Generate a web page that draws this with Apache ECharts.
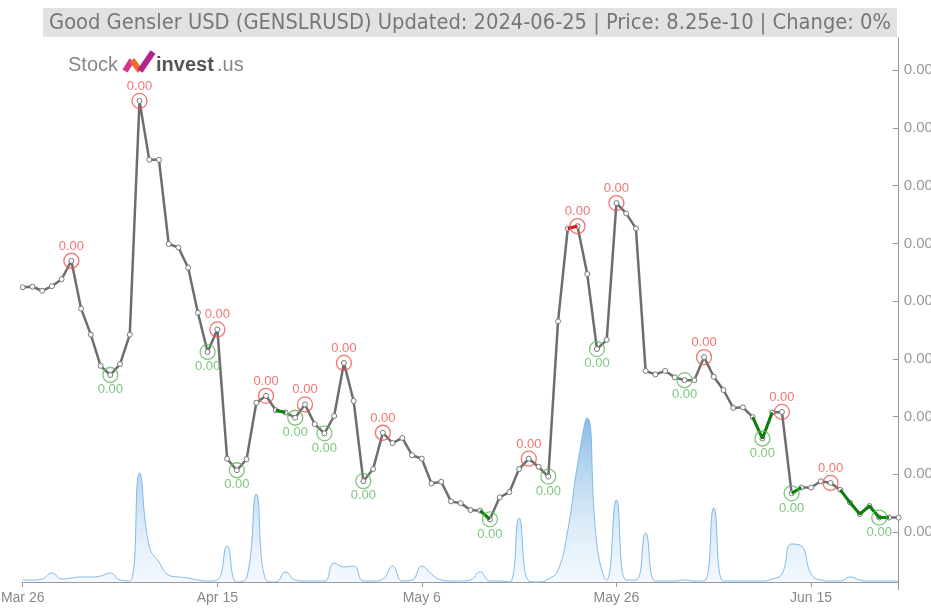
<!DOCTYPE html>
<html>
<head>
<meta charset="utf-8">
<script src="https://cdn.jsdelivr.net/npm/echarts@6/dist/echarts.min.js"></script>
<style>
  html, body { margin: 0; padding: 0; background: #fff; }
  #chart { width: 931px; height: 608px; }
</style>
</head>
<body>
<div id="chart"></div>
<script>
// daily closes, in units of 1e-10 USD
const prices = [
  12.24, 12.25, 12.18, 12.26, 12.38, 12.70, 11.87, 11.42, 10.88, 10.72,
  10.91, 11.42, 15.47, 14.45, 14.45, 12.99, 12.93, 12.58, 11.80, 11.12,
  11.51, 9.27, 9.07, 9.26, 10.24, 10.36, 10.11, 10.07, 9.98, 10.21,
  9.87, 9.71, 10.01, 10.93, 10.27, 8.88, 9.09, 9.72, 9.54, 9.63,
  9.33, 9.27, 8.84, 8.87, 8.53, 8.50, 8.38, 8.37, 8.22, 8.60,
  8.69, 9.09, 9.27, 9.13, 8.96, 11.65, 13.26, 13.30, 12.47, 11.17,
  11.33, 13.70, 13.52, 13.26, 10.79, 10.73, 10.79, 10.68, 10.63, 10.63,
  11.03, 10.69, 10.46, 10.15, 10.16, 9.99, 9.62, 10.07, 10.08, 8.67,
  8.77, 8.77, 8.88, 8.85, 8.73, 8.51, 8.31, 8.45, 8.25, 8.25,
  8.25
];

// relative volume
const volumes = [
  2, 2, 3, 9, 3, 4, 5, 5, 6, 9,
  2, 1, 109, 36, 20, 7, 5, 4, 2, 1,
  2, 36, 0, 4, 88, 2, 0, 10, 2, 1,
  1, 1, 19, 15, 16, 1, 1, 3, 16, 1,
  2, 16, 8, 2, 1, 1, 2, 10, 1, 1,
  0, 64, 1, 0, 3, 12, 52, 117, 164, 37,
  2, 82, 2, 2, 49, 1, 1, 1, 2, 1,
  1, 74, 1, 1, 1, 1, 1, 3, 8, 38,
  36, 8, 2, 1, 1, 5, 2, 1, 1, 1,
  1
];

const tickLabels = ['Mar 26', 'Apr 15', 'May 6', 'May 26', 'Jun 15'];
const highIdx = [5, 12, 20, 25, 29, 33, 37, 52, 57, 61, 70, 78, 83];
const lowIdx = [9, 19, 22, 28, 31, 35, 48, 54, 59, 68, 76, 79, 88];
const greenRuns = [[26, 27], [47, 48], [75, 77], [79, 80], [84, 89]];
const redRuns = [[56, 57]];

const months = ['Jan', 'Feb', 'Mar', 'Apr', 'May', 'Jun', 'Jul', 'Aug', 'Sep', 'Oct', 'Nov', 'Dec'];
const dates = [];
const d0 = Date.UTC(2024, 2, 26);
for (let i = 0; i < prices.length; i++) {
  const d = new Date(d0 + i * 86400000);
  dates.push(months[d.getUTCMonth()] + ' ' + d.getUTCDate());
}

const fmt = (v) => (v * 1e-10).toFixed(2);
const showTick = (idx, val) => tickLabels.indexOf(val) >= 0;

const runSeries = (runs, color) => runs.map(([a, b]) => ({
  type: 'line',
  xAxisIndex: 0,
  yAxisIndex: 0,
  z: 3,
  silent: true,
  showSymbol: false,
  lineStyle: { color: color, width: 3 },
  data: prices.map((p, i) => (i >= a && i <= b ? p : null))
}));

const markSeries = (idxs, color, pos) => ({
  type: 'scatter',
  xAxisIndex: 0,
  yAxisIndex: 0,
  z: 4,
  symbol: 'circle',
  symbolSize: 15,
  itemStyle: { color: 'rgba(0,0,0,0)', borderColor: color, borderWidth: 1.3 },
  label: {
    show: true,
    position: pos,
    distance: 0,
    color: color,
    fontSize: 13,
    fontFamily: 'Liberation Sans',
    formatter: (p) => fmt(p.value[1])
  },
  data: idxs.map((i) => [i, prices[i]])
});

const chart = echarts.init(document.getElementById('chart'));

chart.setOption({
  animation: false,
  title: {
    text: 'Good Gensler USD (GENSLRUSD) Updated: 2024-06-25 | Price: 8.25e-10 | Change: 0%',
    right: 34,
    top: 8,
    padding: [4, 6, 3, 6],
    backgroundColor: '#e2e2e2',
    textStyle: {
      color: '#777',
      fontSize: 21.7,
      fontWeight: 'normal',
      fontFamily: '"Liberation Sans Narrow", "DejaVu Sans Condensed", "Liberation Sans"'
    }
  },
  graphic: [
    { type: 'text', x: 68, y: 65, style: { text: 'Stock', fill: '#888', font: '20px "Liberation Sans"', verticalAlign: 'middle' } },
    { type: 'polyline', shape: { points: [[125, 71], [132, 60]] }, style: { stroke: '#d6338a', lineWidth: 6, fill: null } },
    { type: 'polyline', shape: { points: [[132, 60], [140, 71]] }, style: { stroke: '#f26b2a', lineWidth: 6, fill: null } },
    { type: 'polyline', shape: { points: [[140, 71], [153, 52]] }, style: { stroke: '#b3248f', lineWidth: 6, fill: null } },
    { type: 'text', x: 156, y: 65, style: { text: 'invest', fill: '#555', font: 'bold 20px "Liberation Sans"', verticalAlign: 'middle' } },
    { type: 'text', x: 217, y: 65, style: { text: '.us', fill: '#888', font: '20px "Liberation Sans"', verticalAlign: 'middle' } }
  ],
  grid: [
    { left: 22.7, right: 32.3, top: 38, bottom: 18.3, outerBoundsMode: 'none' },
    { left: 22.7, right: 32.3, top: 38, bottom: 26, outerBoundsMode: 'none' }
  ],
  xAxis: [
    { type: 'category', gridIndex: 0, data: dates, boundaryGap: false, show: false },
    {
      type: 'category',
      gridIndex: 1,
      data: dates,
      boundaryGap: false,
      axisLine: { lineStyle: { color: '#999' } },
      axisTick: { interval: showTick, length: 5, lineStyle: { color: '#999' } },
      axisLabel: { interval: showTick, color: '#888', fontSize: 14, margin: 9, fontFamily: 'Liberation Sans' },
      splitLine: { show: false }
    }
  ],
  yAxis: [
    {
      type: 'value',
      gridIndex: 0,
      position: 'right',
      min: 7,
      max: 16.56,
      interval: 1,
      axisLine: { show: true, lineStyle: { color: '#999' } },
      axisTick: { show: true, inside: true, length: 6, lineStyle: { color: '#999' } },
      axisLabel: {
        color: '#999',
        fontSize: 15,
        margin: 5,
        fontFamily: 'Liberation Sans',
        showMinLabel: false,
        showMaxLabel: false,
        formatter: fmt
      },
      splitLine: { show: false }
    },
    { type: 'value', gridIndex: 1, min: 0, max: 544, show: false }
  ],
  series: [
    {
      type: 'line',
      xAxisIndex: 1,
      yAxisIndex: 1,
      z: 1,
      silent: true,
      smooth: 0.5,
      clip: false,
      showSymbol: false,
      lineStyle: { color: 'rgba(120,178,228,0.9)', width: 1 },
      areaStyle: {
        color: {
          type: 'linear', x: 0, y: 0, x2: 0, y2: 1,
          colorStops: [
            { offset: 0, color: 'rgba(70,148,215,0.9)' },
            { offset: 1, color: 'rgba(200,225,246,0.3)' }
          ]
        }
      },
      data: volumes
    },
    {
      type: 'line',
      xAxisIndex: 0,
      yAxisIndex: 0,
      z: 2,
      symbol: 'circle',
      symbolSize: 5,
      showAllSymbol: true,
      itemStyle: { color: '#fff', borderColor: '#777', borderWidth: 1 },
      lineStyle: { color: '#6e6e6e', width: 2.5 },
      data: prices
    },
    ...runSeries(greenRuns, '#0a820a'),
    ...runSeries(redRuns, '#e01010'),
    markSeries(highIdx, '#f05050', 'top'),
    markSeries(lowIdx, '#5cb85c', 'bottom')
  ]
});
</script>
</body>
</html>
